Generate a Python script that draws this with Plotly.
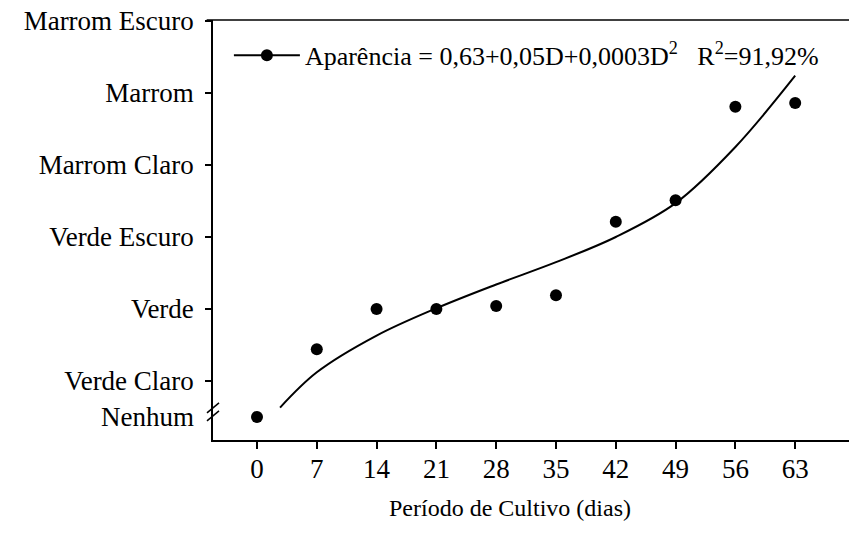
import plotly.graph_objects as go

# Observed appearance scores by cultivation day
days = [0, 7, 14, 21, 28, 35, 42, 49, 56, 63]
appearance = [0.5, 1.44, 2.0, 2.0, 2.04, 2.19, 3.21, 3.51, 4.81, 4.86]

# Fitted regression curve (sampled)
curve_days = [2.7, 7, 14, 21, 28, 35, 42, 49, 56, 63]
curve_vals = [0.63, 1.12, 1.63, 2.01, 2.34, 2.65, 3.0, 3.47, 4.25, 5.24]

# Axis labels
x_ticks = [0, 7, 14, 21, 28, 35, 42, 49, 56, 63]
y_tickvals = [1, 2, 3, 4, 5, 6]
y_ticktext = ["Verde Claro", "Verde", "Verde Escuro", "Marrom Claro", "Marrom", "Marrom Escuro"]
none_level = 0.5
none_label = "Nenhum"
x_title = "Período de Cultivo (dias)"

legend_text = "Aparência = 0,63+0,05D+0,0003D<sup>2</sup>   R<sup>2</sup>=91,92%"

FONT = "Liberation Serif, Times New Roman, serif"
TICK_FS = 27
LEG_FS = 26
TITLE_FS = 24

fig = go.Figure()

fig.add_trace(go.Scatter(
    x=curve_days, y=curve_vals, mode="lines",
    line=dict(color="black", width=2, shape="spline", smoothing=1.0),
    showlegend=False, hoverinfo="skip"))

fig.add_trace(go.Scatter(
    x=days, y=appearance, mode="markers",
    marker=dict(color="black", size=12),
    showlegend=False))

# legend entry: line with marker
fig.add_trace(go.Scatter(
    x=[None], y=[None], mode="lines+markers",
    line=dict(color="black", width=2),
    marker=dict(color="black", size=12),
    name=legend_text, showlegend=True))

fig.update_layout(
    width=849, height=545,
    margin=dict(l=213, r=0, t=20, b=105),
    paper_bgcolor="white", plot_bgcolor="white",
    font=dict(family=FONT, size=TICK_FS, color="black"),
    legend=dict(x=0.025, y=0.972, xanchor="left", yanchor="top",
                bgcolor="rgba(0,0,0,0)", font=dict(family=FONT, size=LEG_FS),
                itemwidth=66),
    xaxis=dict(range=[-5.15, 69.3], tickvals=x_ticks,
               showgrid=False, zeroline=False,
               showline=True, linecolor="black", linewidth=1.5,
               ticks="outside", ticklen=7, tickwidth=1.5, tickcolor="black",
               ticklabelstandoff=-3,
               tickfont=dict(family=FONT, size=TICK_FS)),
    yaxis=dict(range=[0.18, 6.014], tickvals=y_tickvals, ticktext=y_ticktext,
               showgrid=False, zeroline=False,
               showline=True, linecolor="black", linewidth=1.5,
               ticks="outside", ticklen=6, tickwidth=1.5, tickcolor="black",
               ticklabelstandoff=6,
               tickfont=dict(family=FONT, size=TICK_FS)),
)

# x-axis title, centred under the tick labels
fig.add_annotation(x=0.467, xref="paper", y=-0.162, yref="paper",
                   text=x_title, showarrow=False,
                   xanchor="center", yanchor="middle",
                   font=dict(family=FONT, size=TITLE_FS))

# label for the level below the axis break
fig.add_annotation(x=0, xref="paper", y=none_level, yref="y",
                   text=none_label, showarrow=False,
                   xanchor="right", xshift=-17,
                   font=dict(family=FONT, size=TICK_FS))

# top frame line
fig.add_shape(type="line", xref="paper", yref="paper",
              x0=-0.01, x1=1, y0=1, y1=1,
              line=dict(color="black", width=1.5))

# axis break marks
for dy in (-4, 4):
    fig.add_shape(type="line", xref="paper", yref="y",
                  xsizemode="pixel", ysizemode="pixel",
                  xanchor=0, yanchor=0.57,
                  x0=-6, x1=6, y0=dy - 5, y1=dy + 5,
                  line=dict(color="black", width=1.5))

fig.write_html("out.html")
